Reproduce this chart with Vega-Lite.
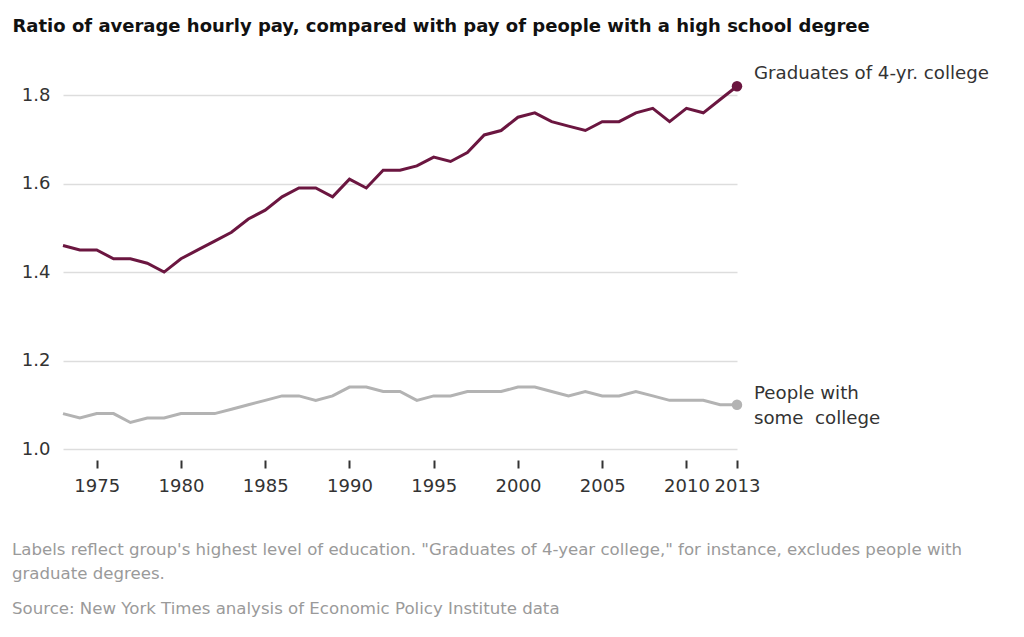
{
  "$schema": "https://vega.github.io/schema/vega-lite/v6.json",
  "width": 674,
  "height": 376,
  "autosize": {"type": "none"},
  "padding": {"left": 63, "top": 73, "right": 287, "bottom": 188},
  "background": "white",
  "config": {
    "view": {"stroke": null},
    "font": "DejaVu Sans"
  },
  "title": {
    "text": ["Labels reflect group's highest level of education. \"Graduates of 4-year college,\" for instance, excludes people with", "graduate degrees."],
    "subtitle": "Source: New York Times analysis of Economic Policy Institute data",
    "orient": "bottom",
    "anchor": "start",
    "frame": "group",
    "dx": -51,
    "offset": 47,
    "font": "DejaVu Sans",
    "fontSize": 16.6,
    "fontWeight": "normal",
    "color": "#9a9a9a",
    "lineHeight": 24,
    "subtitleFont": "DejaVu Sans",
    "subtitleFontSize": 16.6,
    "subtitleColor": "#9a9a9a",
    "subtitlePadding": 18
  },
  "datasets": {
    "pay": [
      {"year": 1973, "group": "Graduates of 4-yr. college", "value": 1.46},
      {"year": 1974, "group": "Graduates of 4-yr. college", "value": 1.45},
      {"year": 1975, "group": "Graduates of 4-yr. college", "value": 1.45},
      {"year": 1976, "group": "Graduates of 4-yr. college", "value": 1.43},
      {"year": 1977, "group": "Graduates of 4-yr. college", "value": 1.43},
      {"year": 1978, "group": "Graduates of 4-yr. college", "value": 1.42},
      {"year": 1979, "group": "Graduates of 4-yr. college", "value": 1.40},
      {"year": 1980, "group": "Graduates of 4-yr. college", "value": 1.43},
      {"year": 1981, "group": "Graduates of 4-yr. college", "value": 1.45},
      {"year": 1982, "group": "Graduates of 4-yr. college", "value": 1.47},
      {"year": 1983, "group": "Graduates of 4-yr. college", "value": 1.49},
      {"year": 1984, "group": "Graduates of 4-yr. college", "value": 1.52},
      {"year": 1985, "group": "Graduates of 4-yr. college", "value": 1.54},
      {"year": 1986, "group": "Graduates of 4-yr. college", "value": 1.57},
      {"year": 1987, "group": "Graduates of 4-yr. college", "value": 1.59},
      {"year": 1988, "group": "Graduates of 4-yr. college", "value": 1.59},
      {"year": 1989, "group": "Graduates of 4-yr. college", "value": 1.57},
      {"year": 1990, "group": "Graduates of 4-yr. college", "value": 1.61},
      {"year": 1991, "group": "Graduates of 4-yr. college", "value": 1.59},
      {"year": 1992, "group": "Graduates of 4-yr. college", "value": 1.63},
      {"year": 1993, "group": "Graduates of 4-yr. college", "value": 1.63},
      {"year": 1994, "group": "Graduates of 4-yr. college", "value": 1.64},
      {"year": 1995, "group": "Graduates of 4-yr. college", "value": 1.66},
      {"year": 1996, "group": "Graduates of 4-yr. college", "value": 1.65},
      {"year": 1997, "group": "Graduates of 4-yr. college", "value": 1.67},
      {"year": 1998, "group": "Graduates of 4-yr. college", "value": 1.71},
      {"year": 1999, "group": "Graduates of 4-yr. college", "value": 1.72},
      {"year": 2000, "group": "Graduates of 4-yr. college", "value": 1.75},
      {"year": 2001, "group": "Graduates of 4-yr. college", "value": 1.76},
      {"year": 2002, "group": "Graduates of 4-yr. college", "value": 1.74},
      {"year": 2003, "group": "Graduates of 4-yr. college", "value": 1.73},
      {"year": 2004, "group": "Graduates of 4-yr. college", "value": 1.72},
      {"year": 2005, "group": "Graduates of 4-yr. college", "value": 1.74},
      {"year": 2006, "group": "Graduates of 4-yr. college", "value": 1.74},
      {"year": 2007, "group": "Graduates of 4-yr. college", "value": 1.76},
      {"year": 2008, "group": "Graduates of 4-yr. college", "value": 1.77},
      {"year": 2009, "group": "Graduates of 4-yr. college", "value": 1.74},
      {"year": 2010, "group": "Graduates of 4-yr. college", "value": 1.77},
      {"year": 2011, "group": "Graduates of 4-yr. college", "value": 1.76},
      {"year": 2012, "group": "Graduates of 4-yr. college", "value": 1.79},
      {"year": 2013, "group": "Graduates of 4-yr. college", "value": 1.82},
      {"year": 1973, "group": "People with some college", "value": 1.08},
      {"year": 1974, "group": "People with some college", "value": 1.07},
      {"year": 1975, "group": "People with some college", "value": 1.08},
      {"year": 1976, "group": "People with some college", "value": 1.08},
      {"year": 1977, "group": "People with some college", "value": 1.06},
      {"year": 1978, "group": "People with some college", "value": 1.07},
      {"year": 1979, "group": "People with some college", "value": 1.07},
      {"year": 1980, "group": "People with some college", "value": 1.08},
      {"year": 1981, "group": "People with some college", "value": 1.08},
      {"year": 1982, "group": "People with some college", "value": 1.08},
      {"year": 1983, "group": "People with some college", "value": 1.09},
      {"year": 1984, "group": "People with some college", "value": 1.10},
      {"year": 1985, "group": "People with some college", "value": 1.11},
      {"year": 1986, "group": "People with some college", "value": 1.12},
      {"year": 1987, "group": "People with some college", "value": 1.12},
      {"year": 1988, "group": "People with some college", "value": 1.11},
      {"year": 1989, "group": "People with some college", "value": 1.12},
      {"year": 1990, "group": "People with some college", "value": 1.14},
      {"year": 1991, "group": "People with some college", "value": 1.14},
      {"year": 1992, "group": "People with some college", "value": 1.13},
      {"year": 1993, "group": "People with some college", "value": 1.13},
      {"year": 1994, "group": "People with some college", "value": 1.11},
      {"year": 1995, "group": "People with some college", "value": 1.12},
      {"year": 1996, "group": "People with some college", "value": 1.12},
      {"year": 1997, "group": "People with some college", "value": 1.13},
      {"year": 1998, "group": "People with some college", "value": 1.13},
      {"year": 1999, "group": "People with some college", "value": 1.13},
      {"year": 2000, "group": "People with some college", "value": 1.14},
      {"year": 2001, "group": "People with some college", "value": 1.14},
      {"year": 2002, "group": "People with some college", "value": 1.13},
      {"year": 2003, "group": "People with some college", "value": 1.12},
      {"year": 2004, "group": "People with some college", "value": 1.13},
      {"year": 2005, "group": "People with some college", "value": 1.12},
      {"year": 2006, "group": "People with some college", "value": 1.12},
      {"year": 2007, "group": "People with some college", "value": 1.13},
      {"year": 2008, "group": "People with some college", "value": 1.12},
      {"year": 2009, "group": "People with some college", "value": 1.11},
      {"year": 2010, "group": "People with some college", "value": 1.11},
      {"year": 2011, "group": "People with some college", "value": 1.11},
      {"year": 2012, "group": "People with some college", "value": 1.10},
      {"year": 2013, "group": "People with some college", "value": 1.10}
    ]
  },
  "data": {"name": "pay"},
  "encoding": {
    "x": {
      "field": "year",
      "type": "quantitative",
      "scale": {"domain": [1973, 2013], "nice": false, "zero": false},
      "axis": {
        "title": null,
        "values": [1975, 1980, 1985, 1990, 1995, 2000, 2005, 2010, 2013],
        "format": "d",
        "grid": false,
        "domain": false,
        "offset": 11,
        "ticks": true,
        "tickSize": 8,
        "tickWidth": 2,
        "tickColor": "#333333",
        "labelFont": "DejaVu Sans",
        "labelFontSize": 18,
        "labelColor": "#333333",
        "labelPadding": 9,
        "labelOverlap": false,
        "labelFlush": false
      }
    },
    "y": {
      "field": "value",
      "type": "quantitative",
      "scale": {"domain": [1.0, 1.85], "nice": false, "zero": false},
      "axis": {
        "title": "Ratio of average hourly pay, compared with pay of people with a high school degree",
        "titleAngle": 0,
        "titleAlign": "left",
        "titleBaseline": "alphabetic",
        "titleX": -51,
        "titleY": -42,
        "titleFont": "DejaVu Sans",
        "titleFontSize": 18,
        "titleFontWeight": "bold",
        "titleColor": "#111111",
        "values": [1.0, 1.2, 1.4, 1.6, 1.8],
        "format": ".1f",
        "grid": true,
        "gridColor": "#dddddd",
        "gridWidth": 1.5,
        "domain": false,
        "ticks": false,
        "labelFont": "DejaVu Sans",
        "labelFontSize": 18,
        "labelColor": "#333333",
        "labelPadding": 13
      }
    },
    "color": {
      "field": "group",
      "type": "nominal",
      "scale": {"domain": ["Graduates of 4-yr. college", "People with some college"], "range": ["#6b1640", "#b3b3b3"]},
      "legend": null
    }
  },
  "layer": [
    {"mark": {"type": "line", "strokeWidth": 3}},
    {
      "transform": [{"filter": "datum.year == 2013"}],
      "mark": {"type": "point", "filled": true, "size": 110, "opacity": 1}
    },
    {
      "transform": [{"filter": "datum.year == 2013 && datum.group == 'Graduates of 4-yr. college'"}],
      "mark": {"type": "text", "align": "left", "baseline": "middle", "dx": 17, "dy": -12, "font": "DejaVu Sans", "fontSize": 18.2, "color": "#333333"},
      "encoding": {"text": {"field": "group"}, "color": {"value": "#333333"}}
    },
    {
      "transform": [{"filter": "datum.year == 2013 && datum.group == 'People with some college'"}],
      "mark": {"type": "text", "align": "left", "baseline": "middle", "dx": 17, "dy": -11, "font": "DejaVu Sans", "fontSize": 18.2, "lineHeight": 25, "color": "#333333"},
      "encoding": {"text": {"value": ["People with", "some\u00a0 college"]}, "color": {"value": "#333333"}}
    }
  ]
}
